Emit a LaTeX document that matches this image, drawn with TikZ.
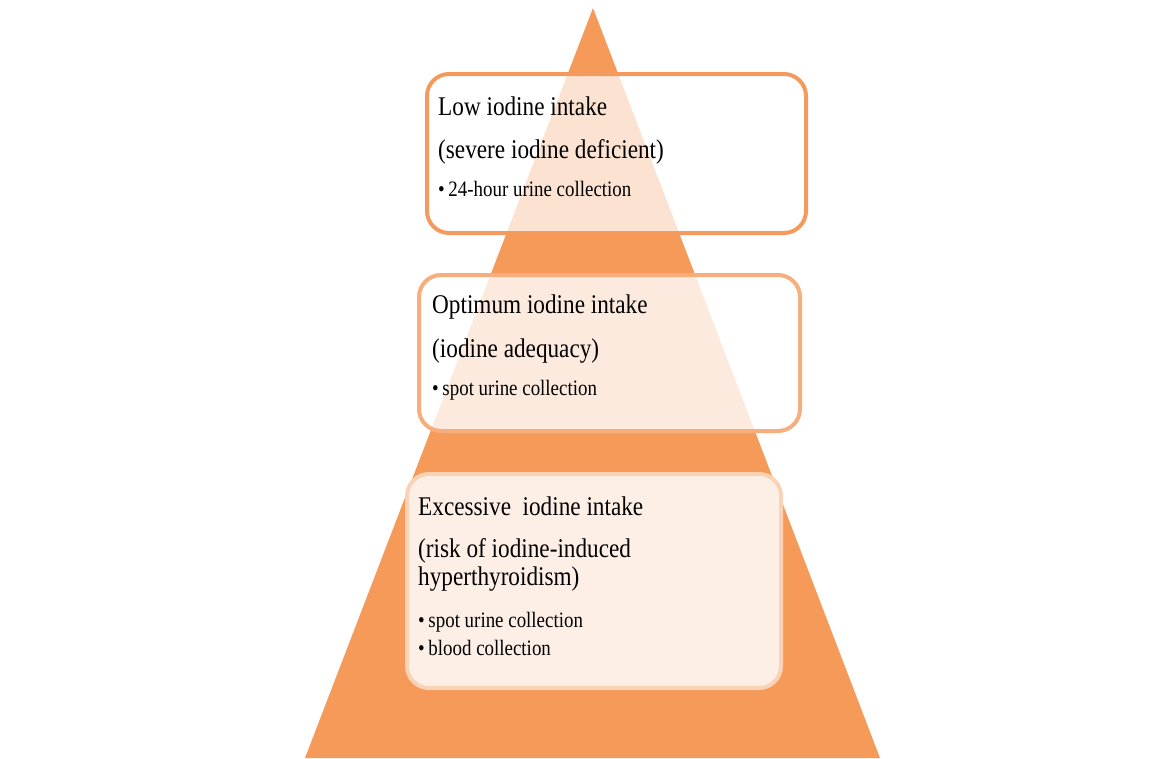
\documentclass[tikz,border=0pt]{standalone}
\usepackage{fontspec}
\setmainfont[FakeStretch=0.86]{Liberation Serif}
\usepackage{tikz}

\definecolor{pyramid}{HTML}{F69A5A}
\definecolor{lowline}{HTML}{F59A5E}
\definecolor{optline}{HTML}{F7AE7C}
\definecolor{excline}{HTML}{FAD3B6}

\tikzset{
  box/.style={draw, line width=4pt, rounded corners=22pt, fill=white, inner sep=0pt},
  head/.style={anchor=base west, inner sep=0pt, font=\fontsize{27}{28}\selectfont},
  item/.style={anchor=base west, inner sep=0pt, font=\fontsize{22}{28}\selectfont},
}

\begin{document}
\begin{tikzpicture}[x=1pt, y=-1pt]
    \useasboundingbox (0, 0) rectangle (1167, 758);
    \fill[pyramid] (593, 8) -- (880, 758) -- (305, 758) -- cycle;
    % boxes
    \node[box, draw=lowline, fill opacity=0.72, minimum width=379pt, minimum height=159pt] (low) at (616.5, 153.5) {};
    \node[box, draw=optline, fill opacity=0.8, minimum width=381pt, minimum height=156pt] (optimum) at (609.5, 353) {};
    \node[box, draw=excline, fill opacity=0.85, minimum width=374pt, minimum height=214pt] (excess) at (594, 581) {};
    % texts
    \node[head] (lowA) at (438, 115) {Low iodine intake};
    \node[head] (lowB) at (438, 158) {(severe iodine deficient)};
    \node[item] (lowC) at (438, 196) {\textbullet\,24-hour urine collection};
    \node[head] (optA) at (432, 313) {Optimum iodine intake};
    \node[head] (optB) at (432, 357) {(iodine adequacy)};
    \node[item] (optC) at (432, 395) {\textbullet\,spot urine collection};
    \node[head] (excA) at (418, 515) {Excessive\ \ iodine intake};
    \node[head] (excB) at (418, 557) {(risk of iodine-induced};
    \node[head] (excC) at (418, 585) {hyperthyroidism)};
    \node[item] (excD) at (418, 627) {\textbullet\,spot urine collection};
    \node[item] (excE) at (418, 655) {\textbullet\,blood collection};
\end{tikzpicture}
\end{document}
